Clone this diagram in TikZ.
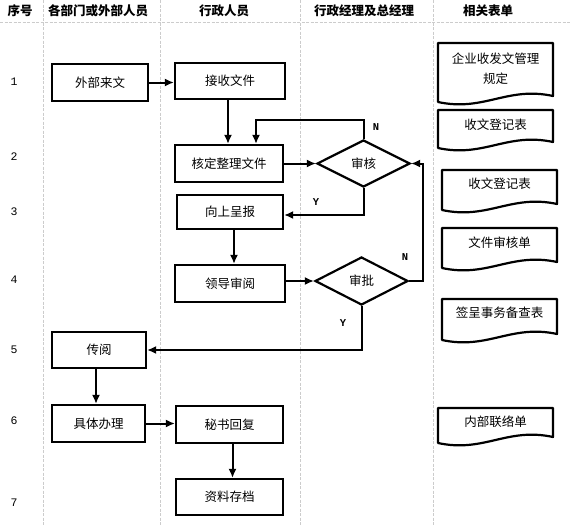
\documentclass[tikz,border=0pt]{standalone}
\usepackage{fontspec}
\newfontfamily\cjk{Noto Sans CJK SC}
\newfontfamily\monof{Liberation Mono}
\usetikzlibrary{arrows.meta,shapes.geometric,calc}
\tikzset{
  boxnode/.style={draw=black,line width=2.2pt,rectangle,inner sep=0pt,font=\cjk\fontsize{12.5}{14}\selectfont},
  dianode/.style={draw=black,line width=2.2pt,diamond,aspect=2,inner sep=0pt,font=\cjk\fontsize{12.5}{14}\selectfont},
  arr/.style={line width=2pt,-{Latex[length=9pt,width=8pt]}},
  lane/.style={draw=black!20,line width=0.8pt,dash pattern=on 3pt off 1.5pt},
  hdr/.style={font=\cjk\bfseries\fontsize{12.5}{14}\selectfont},
  rownum/.style={font=\monof\fontsize{11.5}{13}\selectfont},
  yn/.style={font=\monof\bfseries\fontsize{10.5}{12}\selectfont},
  doctext/.style={font=\cjk\fontsize{12.5}{14}\selectfont,align=center,inner sep=0pt},
  docline/.style={draw=black,line width=2.2pt,line join=round}
}
\newcommand{\docshape}[4]{%
  \draw[docline] (#1,#4) -- (#1,#2) -- (#3,#2) -- (#3,#4-6)
    .. controls ({#1+0.6*(#3-#1)},#4-16) and ({#1+0.4*(#3-#1)},#4+10) .. (#1,#4) -- cycle;}
\begin{document}
\begin{tikzpicture}[x=1pt,y=-1pt]
\useasboundingbox (0,0) rectangle (570,525);
\fill[white] (0,0) rectangle (570,525);
% lanes
\draw[lane] (0,22) -- (570,22);
\foreach \xx in {43,160,300,433} \draw[lane] (\xx,0) -- (\xx,525);
% headers
\node[hdr] (h0) at (20,11) {序号};
\node[hdr] (h1) at (98,11) {各部门或外部人员};
\node[hdr] (h2) at (224,11) {行政人员};
\node[hdr] (h3) at (364,11) {行政经理及总经理};
\node[hdr] (h4) at (488,11) {相关表单};
% row numbers
\node[rownum] (r1) at (14,82) {1};
\node[rownum] (r2) at (14,157) {2};
\node[rownum] (r3) at (14,212) {3};
\node[rownum] (r4) at (14,280) {4};
\node[rownum] (r5) at (14,350) {5};
\node[rownum] (r6) at (14,421) {6};
\node[rownum] (r7) at (14,503) {7};
% flow nodes
\node[boxnode,minimum width=96pt,minimum height=37pt] (a) at (100,82.5) {外部来文};
\node[boxnode,minimum width=110pt,minimum height=36pt] (b) at (230,81) {接收文件};
\node[boxnode,minimum width=108pt,minimum height=37pt] (c) at (229,163.5) {核定整理文件};
\node[dianode,minimum width=93pt,minimum height=47pt] (d) at (363.5,163.5) {审核};
\node[boxnode,minimum width=106pt,minimum height=34pt] (e) at (230,212) {向上呈报};
\node[boxnode,minimum width=110pt,minimum height=37pt] (f) at (230,283.5) {领导审阅};
\node[dianode,minimum width=93pt,minimum height=48pt] (g) at (361.5,281) {审批};
\node[boxnode,minimum width=94pt,minimum height=36pt] (h) at (99,350) {传阅};
\node[boxnode,minimum width=93pt,minimum height=37pt] (i) at (98.5,423.5) {具体办理};
\node[boxnode,minimum width=107pt,minimum height=37pt] (j) at (229.5,424.5) {秘书回复};
\node[boxnode,minimum width=107pt,minimum height=36pt] (k) at (229.5,497) {资料存档};
% connectors
\draw[arr] (a.east) -- (b.west |- a.east);
\draw[arr] ([xshift=-2pt]b.south) -- ([xshift=-2pt]b.south |- c.north);
\draw[arr] (d.north) -- ++(0,-19) -| ([xshift=27pt]c.north);
\node[yn] (n1) at (376,127) {N};
\draw[arr] (c.east) -- (d.west);
\draw[arr] (d.south) |- ([yshift=-3pt]e.east);
\node[yn] (y1) at (316,202) {Y};
\draw[arr] ([xshift=4pt]e.south) -- ([xshift=4pt]e.south |- f.north);
\draw[arr] (f.east |- g.west) -- (g.west);
\coordinate (gn) at (423,281);
\draw[arr] (g.east) -- (gn) |- (d.east);
\node[yn] (n2) at (405,257) {N};
\draw[arr] (g.south) |- (h.east);
\node[yn] (y2) at (343,323) {Y};
\draw[arr] ([xshift=-3pt]h.south) -- ([xshift=-3pt]h.south |- i.north);
\draw[arr] (i.east) -- (j.west |- i.east);
\draw[arr] ([xshift=3pt]j.south) -- ([xshift=3pt]j.south |- k.north);
% documents
\docshape{438}{43}{553}{102}
\node[doctext] (d1) at (495.5,68.5) {企业收发文管理\\[6pt]规定};
\docshape{438}{110}{553}{148}
\node[doctext] (d2) at (495.5,125) {收文登记表};
\docshape{442}{170}{557}{210}
\node[doctext] (d3) at (499.5,184) {收文登记表};
\docshape{442}{228}{557}{268}
\node[doctext] (d4) at (499.5,243) {文件审核单};
\docshape{442}{299}{557}{340}
\node[doctext] (d5) at (499.5,313) {签呈事务备查表};
\docshape{438}{408}{553}{443}
\node[doctext] (d6) at (495.5,422) {内部联络单};
\end{tikzpicture}
\end{document}
